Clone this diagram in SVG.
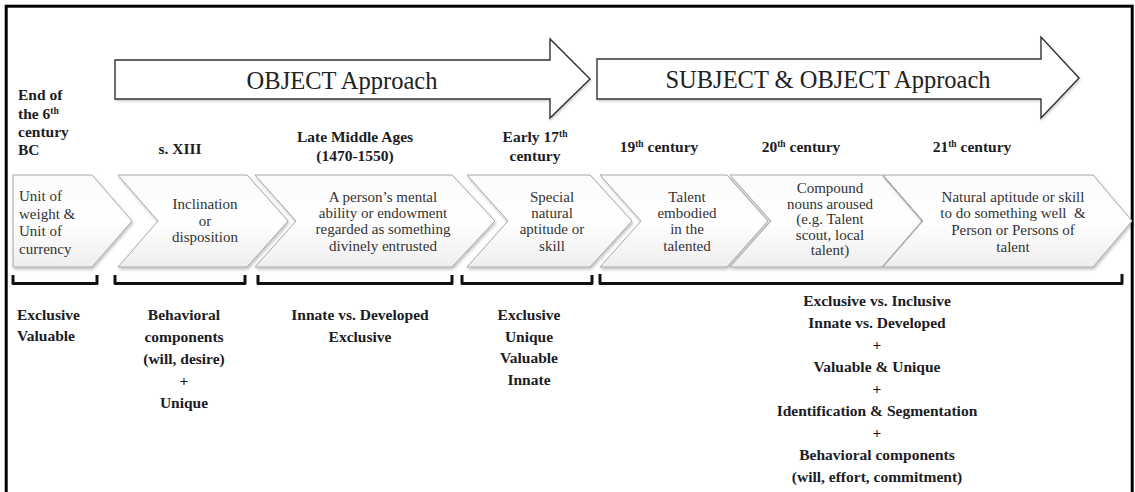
<svg xmlns="http://www.w3.org/2000/svg" width="1135" height="492" viewBox="0 0 1135 492">
<style>
.lbl{font-family:"Liberation Serif","Times New Roman",serif;font-weight:bold;font-size:15.5px;fill:#1c1c24}
.ct{font-family:"Liberation Serif","Times New Roman",serif;font-size:15px;fill:#333}
.big{font-family:"Liberation Serif","Times New Roman",serif;font-size:24.5px;fill:#222}
.chev{fill:url(#cg);stroke:#a8a8a8;stroke-width:1;filter:url(#sh)}
.arr{fill:#fff;stroke:#333;stroke-width:1.4;filter:url(#sh2)}
.br{fill:none;stroke:#111;stroke-width:3;stroke-linejoin:round}
.sup{font-size:9.5px}
</style>
<defs>
<linearGradient id="cg" x1="0" y1="0" x2="0" y2="1">
<stop offset="0" stop-color="#fbfbfb"/>
<stop offset="0.5" stop-color="#ffffff"/>
<stop offset="1" stop-color="#eeeeee"/>
</linearGradient>
<filter id="sh" x="-10%" y="-10%" width="120%" height="130%">
<feDropShadow dx="1" dy="2" stdDeviation="1.5" flood-color="#000" flood-opacity="0.25"/>
</filter>
<filter id="sh2" x="-10%" y="-10%" width="120%" height="130%">
<feDropShadow dx="1" dy="1.5" stdDeviation="1" flood-color="#000" flood-opacity="0.2"/>
</filter>
</defs>
<rect x="0" y="0" width="1135" height="492" fill="#fff"/>
<rect id="frame" x="6.2" y="6.2" width="1126" height="520" fill="none" stroke="#000" stroke-width="3"/>

<g id="approach-object">
<path class="arr" d="M115,60 L550,60 L550,39 L590,79 L550,118 L550,99 L115,99 Z"/>
<text class="big" x="342" y="89" text-anchor="middle">OBJECT Approach</text>
</g>
<g id="approach-subject-object">
<path class="arr" d="M597,59 L1041,59 L1041,37 L1079,78 L1041,118 L1041,99 L597,99 Z"/>
<text class="big" x="828" y="88" text-anchor="middle">SUBJECT &amp; OBJECT Approach</text>
</g>

<g id="periods">
<text class="lbl" x="18"><tspan x="18" y="100">End of</tspan><tspan x="18" y="118.5">the 6<tspan class="sup" dy="-5">th</tspan></tspan><tspan x="18" y="137">century</tspan><tspan x="18" y="155">BC</tspan></text>
<text class="lbl" x="180" y="154" text-anchor="middle">s. XIII</text>
<text class="lbl" text-anchor="middle"><tspan x="355" y="142">Late Middle Ages</tspan><tspan x="355" y="161">(1470-1550)</tspan></text>
<text class="lbl" text-anchor="middle"><tspan x="535" y="142">Early 17<tspan class="sup" dy="-5">th</tspan></tspan><tspan x="535" y="161">century</tspan></text>
<text class="lbl" x="659" y="152" text-anchor="middle">19<tspan class="sup" dy="-5">th</tspan><tspan dy="5"> century</tspan></text>
<text class="lbl" x="801" y="152" text-anchor="middle">20<tspan class="sup" dy="-5">th</tspan><tspan dy="5"> century</tspan></text>
<text class="lbl" x="972" y="152" text-anchor="middle">21<tspan class="sup" dy="-5">th</tspan><tspan dy="5"> century</tspan></text>
</g>

<g id="stage1">
<path class="chev" d="M13,175 L92,175 L132,221 L92,267 L13,267 Z"/>
<text class="ct"><tspan x="19" y="201">Unit of</tspan><tspan x="19" y="218.5">weight &amp;</tspan><tspan x="19" y="236">Unit of</tspan><tspan x="19" y="253.5">currency</tspan></text>
</g>
<g id="stage2">
<path class="chev" d="M118,175 L247,175 L288,221 L247,267 L118,267 L158,221 Z"/>
<text class="ct" text-anchor="middle"><tspan x="205" y="209">Inclination</tspan><tspan x="205" y="225.5">or</tspan><tspan x="205" y="242">disposition</tspan></text>
</g>
<g id="stage3">
<path class="chev" d="M255,175 L452,175 L495,221 L452,267 L255,267 L296,221 Z"/>
<text class="ct" text-anchor="middle"><tspan x="383" y="201.5">A person’s mental</tspan><tspan x="383" y="217.5">ability or endowment</tspan><tspan x="383" y="234">regarded as something</tspan><tspan x="383" y="250.5">divinely entrusted</tspan></text>
</g>
<g id="stage4">
<path class="chev" d="M467,175 L590,175 L632,221 L590,267 L467,267 L508,221 Z"/>
<text class="ct" text-anchor="middle"><tspan x="552" y="201.5">Special</tspan><tspan x="552" y="217.5">natural</tspan><tspan x="552" y="234">aptitude or</tspan><tspan x="552" y="250.5">skill</tspan></text>
</g>
<g id="stage5">
<path class="chev" d="M600,175 L727,175 L768,221 L727,267 L600,267 L641,221 Z"/>
<text class="ct" text-anchor="middle"><tspan x="687" y="201.5">Talent</tspan><tspan x="687" y="217.5">embodied</tspan><tspan x="687" y="234">in the</tspan><tspan x="687" y="250.5">talented</tspan></text>
</g>
<g id="stage6">
<path class="chev" d="M730,175 L882,175 L922,221 L882,267 L730,267 L771,221 Z"/>
<text class="ct" text-anchor="middle"><tspan x="830" y="193">Compound</tspan><tspan x="830" y="208.5">nouns aroused</tspan><tspan x="830" y="224">(e.g. Talent</tspan><tspan x="830" y="239.5">scout, local</tspan><tspan x="830" y="255">talent)</tspan></text>
</g>
<g id="stage7">
<path class="chev" d="M883,175 L1093,175 L1132,221 L1093,267 L883,267 L923,221 Z"/>
<text class="ct" text-anchor="middle" xml:space="preserve"><tspan x="1013" y="202">Natural aptitude or skill</tspan><tspan x="1013" y="218">to do something well  &amp;</tspan><tspan x="1013" y="235">Person or Persons of</tspan><tspan x="1013" y="251.5">talent</tspan></text>
</g>

<g id="connectors">
<path class="br" d="M13,275 V283.5 H97 V275"/>
<path class="br" d="M115,275 V283.5 H245 V275"/>
<path class="br" d="M258,275 V283.5 H452 V275"/>
<path class="br" d="M462,275 V283.5 H592 V275"/>
<path class="br" d="M600,274 V283.5 H1122 V274"/>
</g>

<g id="attributes1">
<text class="lbl"><tspan x="17" y="320">Exclusive</tspan><tspan x="17" y="341">Valuable</tspan></text>
</g>
<g id="attributes2">
<text class="lbl" text-anchor="middle"><tspan x="184" y="320">Behavioral</tspan><tspan x="184" y="342">components</tspan><tspan x="184" y="364">(will, desire)</tspan><tspan x="184" y="386">+</tspan><tspan x="184" y="408">Unique</tspan></text>
</g>
<g id="attributes3">
<text class="lbl" text-anchor="middle"><tspan x="360" y="320">Innate vs. Developed</tspan><tspan x="360" y="342">Exclusive</tspan></text>
</g>
<g id="attributes4">
<text class="lbl" text-anchor="middle"><tspan x="529" y="320">Exclusive</tspan><tspan x="529" y="342">Unique</tspan><tspan x="529" y="363">Valuable</tspan><tspan x="529" y="385">Innate</tspan></text>
</g>
<g id="attributes5">
<text class="lbl" text-anchor="middle"><tspan x="877" y="306">Exclusive vs. Inclusive</tspan><tspan x="877" y="328">Innate vs. Developed</tspan><tspan x="877" y="350">+</tspan><tspan x="877" y="372">Valuable &amp; Unique</tspan><tspan x="877" y="394">+</tspan><tspan x="877" y="416">Identification &amp; Segmentation</tspan><tspan x="877" y="438">+</tspan><tspan x="877" y="460">Behavioral components</tspan><tspan x="877" y="482">(will, effort, commitment)</tspan></text>
</g>
</svg>
